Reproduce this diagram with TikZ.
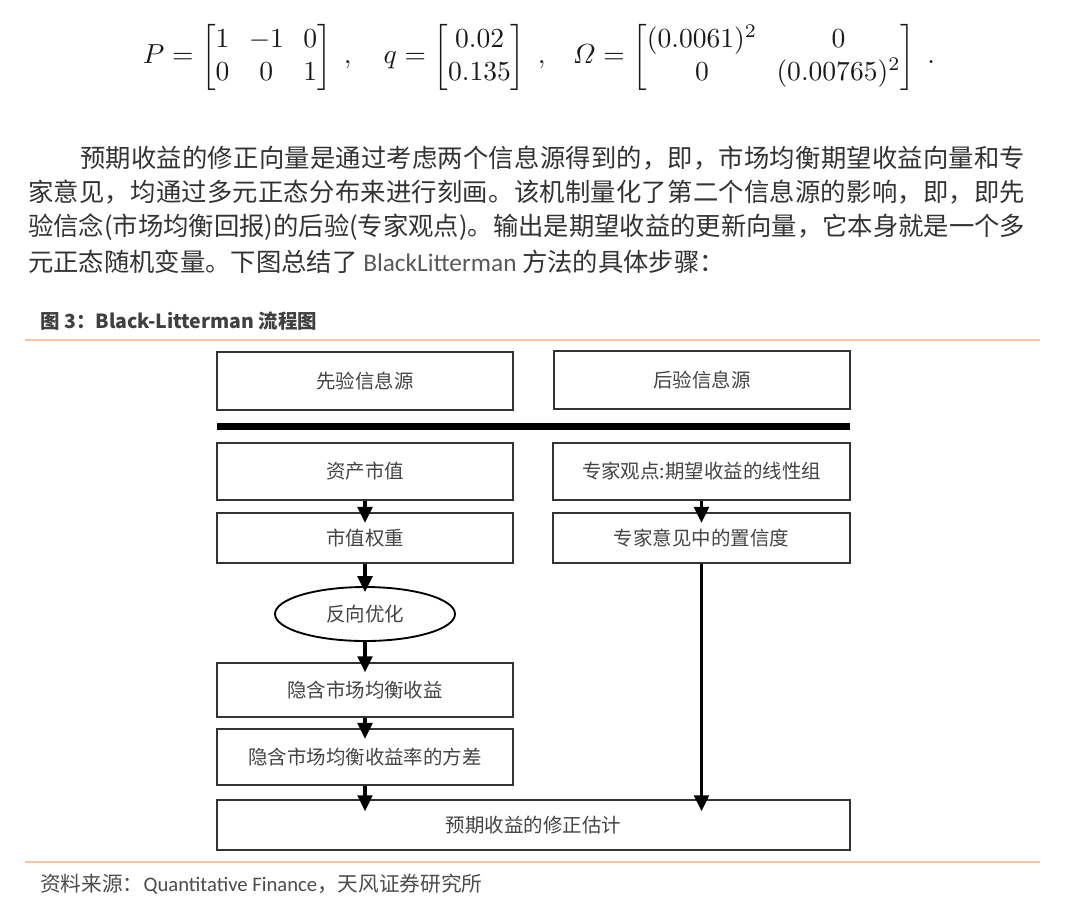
\documentclass[tikz,border=0pt]{standalone}
\usepackage{fontspec}
\usepackage{amsmath}
\usepackage{graphicx}
\usetikzlibrary{arrows.meta,shapes.geometric}
\newfontfamily\cjk{Noto Sans CJK SC}
\newfontfamily\latlight{Carlito}
\definecolor{txt}{HTML}{333333}
\definecolor{boxtxt}{HTML}{444444}
\definecolor{boxline}{HTML}{333333}
\definecolor{rulecol}{HTML}{F3C6A5}
\def\sprfirst#1{#1\sprrest}
\def\sprrest#1{\ifx\relax#1\else\hfil#1\expandafter\sprrest\fi}
\newcommand\spreadline[2]{\makebox[#1][s]{\sprfirst#2\relax}}
\tikzset{
  para/.style={anchor=west,inner sep=0pt,text=txt,font=\cjk\fontsize{19pt}{20pt}\selectfont},
  flowbox/.style={draw=boxline,line width=1.1pt,inner sep=0pt,text=boxtxt,
    font=\cjk\fontsize{14.6pt}{16pt}\selectfont},
  arr/.style={-{Triangle[width=11pt,length=12pt]},line width=2.5pt,black},
  hrule/.style={draw=rulecol,line width=1.5pt}
}
\begin{document}
\begin{tikzpicture}[x=0.75pt,y=-0.75pt]
\useasboundingbox[fill=white] (0,0) rectangle (1080,908);
% equation
\node[inner sep=0pt,text=black!90] (eq) at (539,57) {\setlength\arraycolsep{3.5pt}\resizebox{594pt}{!}{$P=\begin{bmatrix}1&-1&0\\0&0&1\end{bmatrix}\;,\quad q=\begin{bmatrix}0.02\\0.135\end{bmatrix}\;,\;\;\; \varOmega=\begin{bmatrix}(0.0061)^2&0\\0&(0.00765)^2\end{bmatrix}\;.$}};
% paragraph
\node[para] (l1) at (80,158) {\spreadline{708.75pt}{预期收益的修正向量是通过考虑两个信息源得到的，即，市场均衡期望收益向量和专}};
\node[para] (l2) at (28,192) {\spreadline{747.75pt}{家意见，均通过多元正态分布来进行刻画。该机制量化了第二个信息源的影响，即，即先}};
\node[para] (l3) at (28,227) {\spreadline{747.75pt}{验信念(市场均衡回报)的后验(专家观点)。输出是期望收益的更新向量，它本身就是一个多}};
\node[para] (l4) at (28,262) {元正态随机变量。下图总结了 {\latlight\color{black!65}BlackLitterman} 方法的具体步骤：};
% caption
\node[anchor=west,inner sep=0pt,text=black!75,font=\cjk\bfseries\fontsize{14.6pt}{16pt}\selectfont] (cap) at (40,321) {图 3：Black-Litterman 流程图};
\draw[hrule] (25,340) -- (1040,340);
\draw[hrule] (25,862) -- (1040,862);
% footer
\node[anchor=west,inner sep=0pt,text=black!70,font=\cjk\fontsize{15.5pt}{17pt}\selectfont] (src) at (40,884) {资料来源：{\latlight Quantitative Finance}，天风证券研究所};
% flowchart
\node[flowbox,minimum width=222pt,minimum height=43.5pt] (prior) at (365,381) {先验信息源};
\node[flowbox,minimum width=222pt,minimum height=43.5pt] (post) at (702,380) {后验信息源};
\fill[black] (217,423) rectangle (850,430);
\node[flowbox,minimum width=222pt,minimum height=42.75pt] (mcap) at (365,471.5) {资产市值};
\node[flowbox,minimum width=222.75pt,minimum height=42.75pt] (view) at (701.5,471.5) {专家观点:期望收益的线性组};
\node[flowbox,minimum width=222pt,minimum height=37.5pt] (wts) at (365,538) {市值权重};
\node[flowbox,minimum width=222.75pt,minimum height=37.5pt] (conf) at (701.5,538) {专家意见中的置信度};
\node[ellipse,draw=black,line width=1.4pt,inner sep=0pt,minimum width=135pt,minimum height=40.5pt,text=boxtxt,font=\cjk\fontsize{14.6pt}{16pt}\selectfont] (rev) at (365,614) {反向优化};
\node[flowbox,minimum width=222pt,minimum height=40.5pt] (imp) at (365,690) {隐含市场均衡收益};
\node[flowbox,minimum width=222pt,minimum height=42pt] (var) at (365,757) {隐含市场均衡收益率的方差};
\node[flowbox,minimum width=474.75pt,minimum height=37.5pt] (fin) at (533.5,825) {预期收益的修正估计};
% arrows
\draw[arr,shorten >=-8pt] (mcap) -- (wts);
\draw[arr,shorten >=-8pt] (view) -- (conf);
\draw[arr,shorten >=-4.5pt] (wts) -- (rev);
\draw[arr,shorten >=-7.5pt] (rev) -- (imp);
\draw[arr,shorten >=-8pt] (imp) -- (var);
\draw[arr,shorten >=-9pt] (var.south) -- (var.south |- fin.north);
\draw[arr,shorten >=-9pt] (conf.south) -- (conf.south |- fin.north);
\end{tikzpicture}
\end{document}
